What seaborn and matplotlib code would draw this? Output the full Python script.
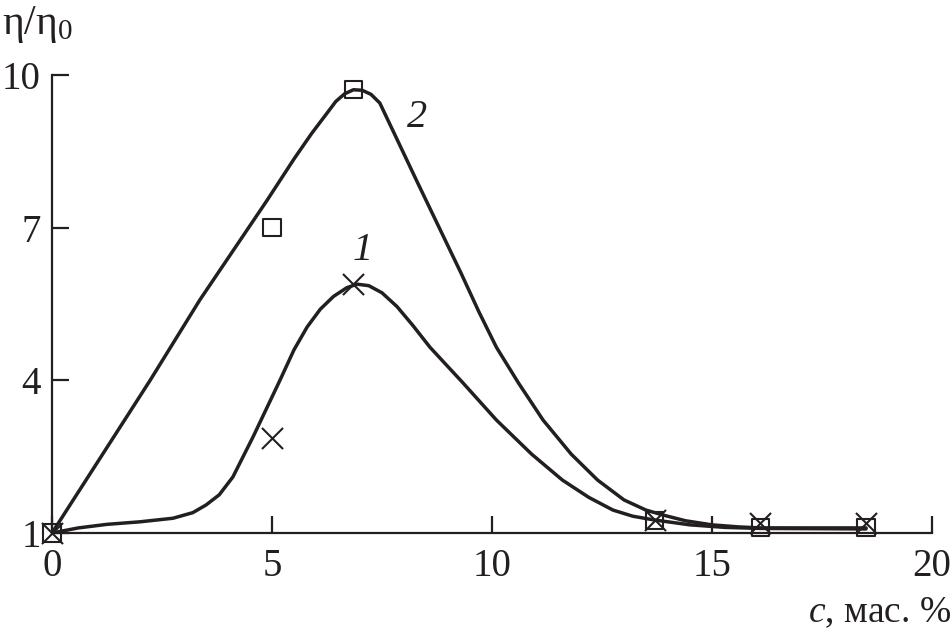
import matplotlib
matplotlib.use("Agg")
import matplotlib.pyplot as plt
import seaborn as sns
import pandas as pd

# measured points
c_points = [0, 5, 6.85, 13.7, 16.1, 18.5]
eta_squares = [1.0, 7.0, 9.72, 1.25, 1.1, 1.1]
eta_crosses = [1.0, 2.87, 5.9, 1.25, 1.2, 1.2]

# curve 1
c_curve1 = [0, 0.6, 1.25, 2.0, 2.75, 3.2, 3.5, 3.8, 4.11, 4.57, 5.18, 5.5, 5.8, 6.1,
            6.4, 6.7, 6.93, 7.2, 7.5, 7.84, 8.2, 8.59, 9.34, 10.1, 10.9, 11.6, 12.2,
            12.75, 13.2, 13.66, 14.5, 15.3, 16.1, 18.5]
eta_curve1 = [1.0, 1.1, 1.17, 1.22, 1.29, 1.4, 1.55, 1.75, 2.1, 2.89, 4.0, 4.6, 5.05, 5.4,
              5.65, 5.82, 5.89, 5.86, 5.72, 5.45, 5.08, 4.65, 3.95, 3.22, 2.55, 2.04, 1.7,
              1.45, 1.33, 1.26, 1.16, 1.11, 1.09, 1.08]

# curve 2
c_curve2 = [0, 2.23, 3.36, 4.89, 5.5, 5.9, 6.25, 6.45, 6.65, 6.85, 7.05, 7.25, 7.45,
            8.3, 9.3, 9.7, 10.1, 10.6, 11.16, 11.8, 12.4, 13.0, 13.5, 13.9, 14.4,
            15.0, 15.6, 16.1, 18.5]
eta_curve2 = [1.0, 4.0, 5.58, 7.54, 8.35, 8.85, 9.25, 9.48, 9.63, 9.71, 9.7, 9.62, 9.45,
              7.9, 6.1, 5.35, 4.65, 3.95, 3.22, 2.55, 2.04, 1.65, 1.45, 1.35, 1.24,
              1.16, 1.12, 1.1, 1.1]

x_ticks = [0, 5, 10, 15, 20]
y_ticks = [1, 4, 7, 10]

ink = "#231f20"

sns.set_style("ticks")
plt.rcParams['font.family'] = ['Liberation Serif', 'DejaVu Serif']
plt.rcParams['mathtext.fontset'] = 'custom'
plt.rcParams['mathtext.rm'] = 'Liberation Serif'
plt.rcParams['mathtext.it'] = 'Liberation Serif:italic'

fig = plt.figure(figsize=(9.53, 6.37), dpi=100)
ax = fig.add_axes([52 / 953, 1 - 533 / 637, 880 / 953, 458 / 637])

curves = pd.DataFrame({"c": c_curve1 + c_curve2,
                       "eta": eta_curve1 + eta_curve2,
                       "curve": ["1"] * len(c_curve1) + ["2"] * len(c_curve2)})
sns.lineplot(data=curves, x="c", y="eta", units="curve", estimator=None, sort=False,
             color=ink, linewidth=2.5, legend=False, ax=ax)

sns.scatterplot(x=c_points, y=eta_squares, marker="s", s=150, facecolors="none",
                edgecolor=ink, linewidth=1.5, ax=ax, zorder=3, clip_on=False)
sns.scatterplot(x=c_points, y=eta_crosses, marker="x", s=230, color=ink,
                linewidth=1.5, ax=ax, zorder=3, clip_on=False)

ax.set_xlim(0, 20)
ax.set_ylim(1, 10)
ax.set_xticks(x_ticks)
ax.set_yticks(y_ticks)
ax.set_xlabel("")
ax.set_ylabel("")
sns.despine(ax=ax)
for s in ["left", "bottom"]:
    ax.spines[s].set_linewidth(1.6)
    ax.spines[s].set_color(ink)
ax.tick_params(direction="in", length=12, width=1.6, colors=ink,
               labelsize=28, pad=11)
ax.tick_params(axis="y", pad=8)

ax.text(7.07, 6.56, "1", fontsize=29, style="italic", color=ink, ha="center", va="center")
ax.text(8.3, 9.17, "2", fontsize=29, style="italic", color=ink, ha="center", va="center")

fig.text(2 / 953, 1 - 4 / 637, r"η/η$_{0}$", fontsize=30, color=ink, ha="left", va="top")
fig.text(951 / 953, 1 - 630 / 637, r"$c$, мас. %", fontsize=27, color=ink,
         ha="right", va="bottom")

fig.savefig("out.png", dpi=100)
